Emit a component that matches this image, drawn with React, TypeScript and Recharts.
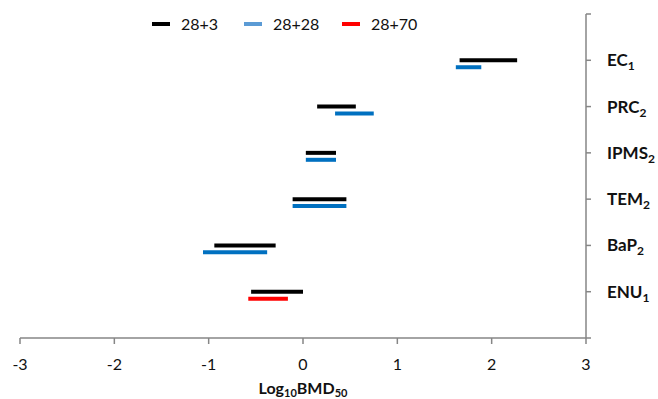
import React from 'react';
import { ScatterChart, Scatter, XAxis, YAxis, Label } from 'recharts';

// Categories (top to bottom) and their subscripts
const categories = ['EC', 'PRC', 'IPMS', 'TEM', 'BaP', 'ENU'];
const categorySubs = ['1', '2', '2', '2', '2', '1'];

// Series names and colours
const seriesNames = ['28+3', '28+28', '28+70'];
const seriesColors = ['#000000', '#0070C0', '#FF0000'];
const legendColors = ['#000000', '#5B9BD5', '#FF0000'];

// Log10 BMD50 ranges (low / high) per category, null = not present
const low28p3 = [1.66, 0.15, 0.03, -0.11, -0.94, -0.55];
const high28p3 = [2.27, 0.56, 0.35, 0.46, -0.29, 0.0];
const low28p28 = [1.62, 0.34, 0.03, -0.11, -1.06, null];
const high28p28 = [1.89, 0.75, 0.35, 0.46, -0.38, null];
const low28p70 = [null, null, null, null, null, -0.58];
const high28p70 = [null, null, null, null, null, -0.16];

const xTicks = [-3, -2, -1, 0, 1, 2, 3];
const yTicks = [0, 1, 2, 3, 4, 5, 6, 7];

const FONT = 'Lato, "Open Sans", sans-serif';
const AXIS = '#868686';
const legendLefts = [152, 244, 342];

const seriesLows = [low28p3, low28p28, low28p70];
const seriesHighs = [high28p3, high28p28, high28p70];
const seriesRowShift = [0, -0.15, -0.15];

type Seg = { key: string; color: string; data: { x: number; y: number }[] };
const segments: Seg[] = [];
seriesLows.forEach((lows, s) => {
  lows.forEach((lo, i) => {
    const hi = seriesHighs[s][i];
    if (lo === null || hi === null) return;
    const y = categories.length - i + seriesRowShift[s];
    segments.push({
      key: `${s}-${i}`,
      color: seriesColors[s],
      data: [
        { x: lo, y },
        { x: hi, y },
      ],
    });
  });
});

const YTick = (props: any) => {
  const { x, y, payload } = props;
  const v = payload.value;
  if (v < 1 || v > categories.length) return null;
  const i = categories.length - v;
  return (
    <text x={x + 14} y={y + 6} fontFamily={FONT} fontWeight={700} fontSize={17} fill="#111" textAnchor="start">
      {categories[i]}
      <tspan fontSize={12} dy={4}>{categorySubs[i]}</tspan>
    </text>
  );
};

const XTick = (props: any) => {
  const { x, y, payload } = props;
  return (
    <text x={x} y={y + 24} fontFamily={FONT} fontSize={16} fill="#111" textAnchor="middle">
      {payload.value}
    </text>
  );
};

const XTitle = (props: any) => {
  const vb = props.viewBox || {};
  const cx = vb.x + vb.width / 2;
  return (
    <text x={cx} y={394} fontFamily={FONT} fontWeight={700} fontSize={16} fill="#111" textAnchor="middle">
      Log
      <tspan fontSize={11} dy={3}>10</tspan>
      <tspan dy={-3}>BMD</tspan>
      <tspan fontSize={11} dy={3}>50</tspan>
    </text>
  );
};

const LegendBox = () => (
  <div style={{ position: 'absolute', left: 0, top: 14, fontFamily: FONT, fontSize: 16, lineHeight: '20px', color: '#111' }}>
    {seriesNames.map((n, i) => (
      <div
        key={n}
        style={{ position: 'absolute', left: legendLefts[i], top: 0, display: 'flex', alignItems: 'center', whiteSpace: 'nowrap' }}
      >
        <div style={{ width: 18, height: 4, background: legendColors[i], marginRight: 11 }} />
        <span>{n}</span>
      </div>
    ))}
  </div>
);

export default function App() {
  return (
    <div style={{ position: 'absolute', left: 0, top: 0, width: 658, height: 399, background: '#fff' }}>
      <ScatterChart width={658} height={399} margin={{ top: 14, right: 0, bottom: 0, left: 20 }}>
        <XAxis
          type="number"
          dataKey="x"
          domain={[-3, 3]}
          ticks={xTicks}
          allowDataOverflow
          height={61}
          stroke={AXIS}
          strokeWidth={1.5}
          tickSize={6}
          tick={<XTick />}
        >
          <Label content={<XTitle />} />
        </XAxis>
        <YAxis
          type="number"
          dataKey="y"
          orientation="right"
          domain={[0, 7]}
          ticks={yTicks}
          allowDataOverflow
          width={72}
          stroke={AXIS}
          strokeWidth={1.5}
          tickSize={5}
          tick={<YTick />}
        />
        {segments.map((seg) => (
          <Scatter
            key={seg.key}
            data={seg.data}
            fill={seg.color}
            line={{ stroke: seg.color, strokeWidth: 4 }}
            shape={() => <g />}
            legendType="none"
            isAnimationActive={false}
          />
        ))}
      </ScatterChart>
      <LegendBox />
    </div>
  );
}
